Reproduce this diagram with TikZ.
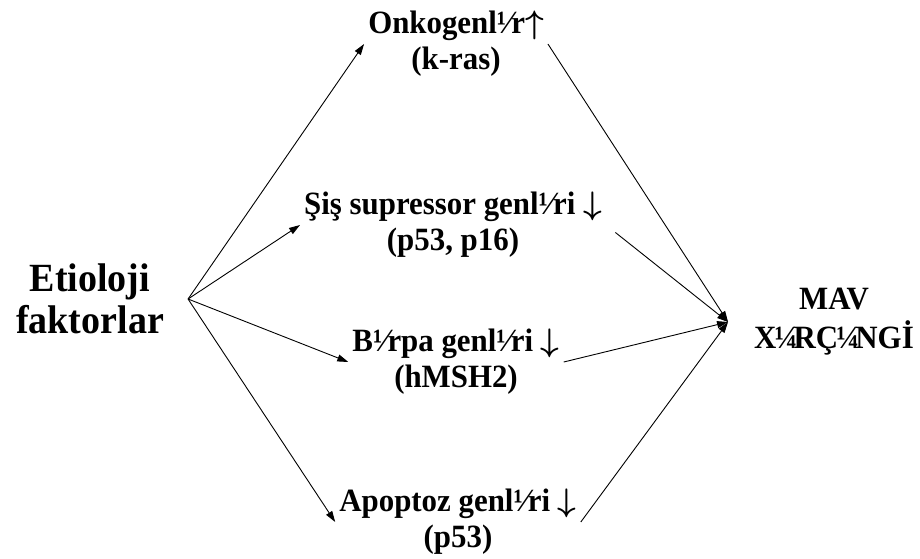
\RequirePackage{fix-cm}
\documentclass[tikz,border=0pt]{standalone}
\usepackage{fontspec}
\setmainfont{Liberation Serif}[FakeStretch=0.95]
\usetikzlibrary{arrows.meta,positioning}
\newcommand{\up}{\ensuremath{\uparrow}}
\newcommand{\down}{\ensuremath{\downarrow}}
\begin{document}
\begin{tikzpicture}[
    x=1pt, y=-1pt,
    font=\boldmath\bfseries\fontsize{32.5}{36}\selectfont,
    >={Triangle[length=11pt,width=7pt]},
    gene/.style={align=center, inner sep=4pt},
    cause/.style={align=center, inner sep=4pt, font=\bfseries\fontsize{40}{42}\selectfont},
    link/.style={line width=0.9pt, ->}
]
\useasboundingbox (0,0) rectangle (920,558);
% etiology and outcome
\node[cause] (etio) at (90,299) {Etioloji\\faktorlar};
\node[gene, font=\bfseries\fontsize{32.5}{39}\selectfont] (mav) at (834,322)
    {MAV\\X\kern-2pt¼\kern-4pt RÇ\kern-2pt¼\kern-4pt NGİ};
% gene groups
\node[gene] (onko) at (456,44) {Onkogenl¹⁄r\up\\(k-ras)};
\node[gene] (sis) at (453,225) {Şiş supressor genl¹⁄ri \down\\(p53, p16)};
\node[gene] (birpa) at (456,362) {B¹⁄rpa genl¹⁄ri \down\\(hMSH2)};
\node[gene] (apop) at (458,522) {Apoptoz genl¹⁄ri \down\\(p53)};
\coordinate (src) at ([xshift=20pt]etio.east);
\coordinate (hub) at ([xshift=-22pt]mav.west);
\draw[link] (src) -- (onko.west);
\draw[link] (src) -- (sis.west);
\draw[link] (src) -- (birpa.west);
\draw[link] (src) -- (apop.west);
\draw[link] (onko.east) -- (hub);
\draw[link, shorten <=12pt] (sis.east) -- (hub);
\draw[link] (birpa.east) -- (hub);
\draw[link] (apop.east) -- (hub);
\end{tikzpicture}
\end{document}
